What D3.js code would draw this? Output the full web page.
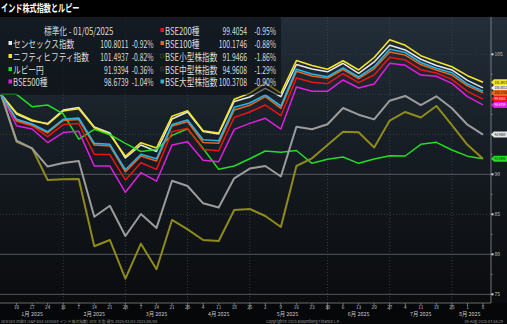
<!DOCTYPE html>
<html><head><meta charset="utf-8">
<script src="https://cdn.jsdelivr.net/npm/d3@7"></script>
<style>
html,body{margin:0;padding:0;background:#000;}
svg{display:block;}
text{font-family:"Noto Sans CJK JP","Noto Sans",sans-serif;}
</style></head><body>
<svg id="chart" width="507" height="324"></svg>
<script>
// Weekly closes (Fridays), normalised to 100 at the first date
const dates = ["2025-01-03","2025-01-10","2025-01-17","2025-01-24","2025-01-31","2025-02-07","2025-02-14","2025-02-21","2025-02-28","2025-03-07","2025-03-14","2025-03-21","2025-03-28","2025-04-04","2025-04-11","2025-04-18","2025-04-25","2025-05-02","2025-05-09","2025-05-16","2025-05-23","2025-05-30","2025-06-06","2025-06-13","2025-06-20","2025-06-27","2025-07-04","2025-07-11","2025-07-18","2025-07-25","2025-08-01","2025-08-08"];

const sensex   = [100,97.54,96.66,96.35,98.04,98.35,95.91,95.16,92.04,93.66,92.85,96.91,97.79,95.35,95.04,99.10,99.66,100.75,99.70,103.72,103.16,102.81,103.88,102.62,104.04,106.13,105.54,104.38,103.60,103.04,101.74,100.8011];
const nifty    = [100,97.66,96.79,96.25,97.91,98.20,95.81,94.97,92.25,93.95,93.29,97.26,97.95,95.45,95.16,99.37,100.13,101.41,100.13,104.22,103.60,103.14,104.19,103.04,104.60,106.81,106.12,104.83,104.10,103.45,102.33,101.4937];
const rupeeJpy = [100,100,98.45,98.66,97.56,94.41,95.62,94.95,93.87,92.85,93.10,94.87,95.69,93.22,90.62,91.04,91.95,92.91,92.75,92.97,91.37,91.87,92.16,91.37,91.91,92.32,92.29,93.75,94.00,93.04,92.27,91.9394];
const bse500   = [100,96.07,95.66,93.97,95.22,95.37,91.04,91.04,87.75,90.22,89.14,93.66,94.07,91.75,91.57,95.62,96.37,97.00,95.66,100.91,100.39,100.37,101.79,100.79,101.29,103.87,103.62,102.41,102.25,101.37,99.71,98.6739];
const bse200   = [100,96.60,96.04,94.70,96.22,96.35,92.51,92.46,89.29,91.45,90.62,95.32,95.75,93.09,92.94,97.12,97.79,98.66,97.32,102.04,101.50,101.32,102.57,101.45,102.41,104.62,104.29,103.07,102.66,101.87,100.36,99.4054];
const bse100   = [100,96.72,96.16,95.16,96.72,96.85,93.66,93.54,90.29,92.29,91.66,96.04,96.57,93.97,93.87,98.04,98.62,99.70,98.25,102.87,102.29,102.00,103.10,101.95,103.19,105.29,104.91,103.72,103.04,102.41,101.06,100.1746];
const smallCap = [100,94.07,93.25,89.29,89.37,89.41,81.00,81.79,76.95,81.33,78.14,84.29,83.12,81.79,81.66,85.54,85.66,84.79,83.41,91.04,92.00,93.66,95.32,95.25,93.35,96.72,97.79,97.10,98.54,96.16,93.69,91.9466];
const midCap   = [100,94.22,93.25,90.97,91.41,91.66,84.70,86.07,82.29,85.04,83.29,89.20,88.54,86.37,85.85,89.50,90.72,91.04,89.72,95.95,95.64,96.25,98.29,97.45,96.87,99.20,99.79,98.66,99.75,98.25,96.20,94.9608];
const largeCap = [100,96.87,96.29,95.32,96.87,97.04,93.87,93.75,90.57,92.51,91.94,96.22,96.79,94.32,94.19,98.37,98.91,99.91,98.54,103.12,102.54,102.20,103.31,102.16,103.45,105.62,105.22,103.97,103.25,102.70,101.28,100.3708];

const seriesNames  = ["センセックス指数","ニフティヒフティ指数","ルピー円","BSE500種","BSE200種","BSE100種","BSE小型株指数","BSE中型株指数","BSE大型株指数"];
const seriesValues = [sensex, nifty, rupeeJpy, bse500, bse200, bse100, smallCap, midCap, largeCap];
const seriesColors = ["#e8e8e8","#f3e52a","#24dc24","#e01fe0","#ee1414","#e8661c","#8f8a1c","#9c9c9c","#28b4e6"];

const yTickValues  = [75,80,85,90,95,100,105];
const yLabelValues = [75,80,85,90,105];
const ySolidGrid   = [75,80,90];
const monthEnds    = ["2025-01-31","2025-02-28","2025-03-28","2025-04-25","2025-05-30","2025-06-27","2025-07-25"];
const monthLabels  = ["1月 2025","2月 2025","3月 2025","4月 2025","5月 2025","6月 2025","7月 2025","8月 2025"];
const monthLabelAt = ["2025-01-17","2025-02-14","2025-03-14","2025-04-11","2025-05-12","2025-06-13","2025-07-11","2025-08-02"];

const parse = d3.timeParse("%Y-%m-%d");
const dts = dates.map(parse);

const svg = d3.select("#chart");
const W = 507, H = 324, plotTop = 17, plotBottom = 303, axisX = 491;

const x = d3.scaleTime().domain([dts[0], dts[dts.length-1]]).range([1, 483]);
const y = d3.scaleLinear().domain([75, 105]).range([294.3, 54.3]);

// background
const defs = svg.append("defs");
const g1 = defs.append("linearGradient").attr("id","bg").attr("x1",0).attr("y1",0).attr("x2",0).attr("y2",1);
g1.append("stop").attr("offset","0%").attr("stop-color","#232e39");
g1.append("stop").attr("offset","45%").attr("stop-color","#161d24");
g1.append("stop").attr("offset","100%").attr("stop-color","#0a0b0d");
svg.append("rect").attr("width",W).attr("height",H).attr("fill","#060708");
svg.append("rect").attr("x",0).attr("y",plotTop).attr("width",W).attr("height",plotBottom-plotTop).attr("fill","url(#bg)");
svg.append("rect").attr("width",W).attr("height",plotTop).attr("fill","#000");

// title
svg.append("text").attr("transform","translate(1,12) scale(0.68,1)")
  .attr("font-size",10.5).attr("font-weight","bold").attr("fill","#fff").text("インド株式指数とルピー");

// grid
const grid = svg.append("g");
grid.selectAll("line.v").data(monthEnds.map(parse)).join("line")
  .attr("x1",d=>x(d)).attr("x2",d=>x(d)).attr("y1",plotTop).attr("y2",plotBottom)
  .attr("stroke","#3d4751").attr("stroke-dasharray","1,2").attr("stroke-width",0.8);
grid.selectAll("line.h").data(yTickValues).join("line")
  .attr("x1",0).attr("x2",axisX).attr("y1",d=>y(d)).attr("y2",d=>y(d))
  .attr("stroke",d=>ySolidGrid.includes(d)?"#5c6268":"#37414a")
  .attr("stroke-dasharray",d=>ySolidGrid.includes(d)?null:"1,2")
  .attr("stroke-width",0.9);

// lines
const line = d3.line().x((d,i)=>x(dts[i])).y(d=>y(d));
const lineWidths = [1.5,1.6,1.5,1.5,1.5,1.5,2,2,1.6];
svg.append("g").selectAll("path").data(seriesValues).join("path")
  .attr("d",line).attr("fill","none")
  .attr("stroke",(d,i)=>seriesColors[i]).attr("stroke-width",(d,i)=>lineWidths[i])
  .attr("stroke-linejoin","round");

// legend box
svg.append("rect").attr("x",0).attr("y",plotTop).attr("width",281).attr("height",78)
  .attr("fill","rgba(8,11,14,0.55)");

const fmt4 = d3.format(".4f");
const lastVal = s => s[s.length-1];
const pctChg = s => ((s[s.length-1]/s[s.length-2]-1)*100).toFixed(2) + "%";

const leg = svg.append("g").attr("fill","#dcdcdc").attr("font-size",10);
function sText(g, tx, ty, str, anchor, sx) {
  return g.append("text").attr("transform",`translate(${tx},${ty}) scale(${sx||0.77},1)`)
    .attr("text-anchor",anchor||"start").text(str);
}
const numScale = 0.68;
sText(leg, 44, 34.5, "標準化 - 01/05/2025");
const leftIdx = [0,1,2,3], rightIdx = [4,5,6,7,8];
const rowBase = [47.5,60.5,73.5,86];
const rowBaseR = [34.5,47.5,60.5,73.5,86];
leftIdx.forEach((si,r)=>{
  const b = rowBase[r];
  leg.append("rect").attr("x",8.5).attr("y",b-6.5).attr("width",3.5).attr("height",4).attr("fill",seriesColors[si]);
  sText(leg, 13, b, seriesNames[si]);
  sText(leg, 128.5, b, fmt4(lastVal(seriesValues[si])), "end", numScale);
  sText(leg, 153.5, b, pctChg(seriesValues[si]), "end", numScale);
});
rightIdx.forEach((si,r)=>{
  const b = rowBaseR[r];
  const hollow = si===6 || si===7;
  leg.append("rect").attr("x",160.5).attr("y",b-6.5).attr("width",3.5).attr("height",4)
    .attr("fill",hollow?"#1b1f22":seriesColors[si])
    .attr("stroke",hollow?(si===6?"#6f6a1a":"#555"):"none").attr("stroke-width",0.6)
    .attr("stroke-dasharray",hollow?"0.8,0.6":null);
  sText(leg, 165, b, seriesNames[si]);
  sText(leg, 247, b, fmt4(lastVal(seriesValues[si])), "end", numScale);
  sText(leg, 276, b, pctChg(seriesValues[si]), "end", numScale);
});

// right axis
const ax = svg.append("g");
ax.append("line").attr("x1",axisX).attr("x2",axisX).attr("y1",plotTop).attr("y2",plotBottom).attr("stroke","#8a8f94").attr("stroke-width",0.8);
ax.selectAll("line.mn").data(d3.range(75,105.01,2.5)).join("line")
  .attr("x1",axisX).attr("x2",axisX+1.6).attr("y1",d=>y(d)).attr("y2",d=>y(d))
  .attr("stroke","#9aa0a5").attr("stroke-width",0.7);
ax.selectAll("rect.tk").data(yLabelValues).join("rect")
  .attr("x",axisX+0.5).attr("y",d=>y(d)-1).attr("width",2).attr("height",2).attr("fill","#d8d8d8");
ax.selectAll("text").data(yLabelValues).join("text")
  .attr("x",axisX+3.5).attr("y",d=>y(d)+1.8).attr("font-size",5).attr("fill","#c8c8c8").text(d=>d);

// last-value tags at the right edge (large cap and small cap tags sit under neighbours and are not shown)
const tagOrder = [0,1,2,3,4,5,7];
const tagText = ["#111","#111","#111","#fff","#fff","#111","#111","#111","#111"];
const tagFill = seriesColors.map((c,i)=> i===7 ? "#e4e4e4" : c);
const tags = svg.append("g");
tagOrder.forEach(si=>{
  const yc = y(lastVal(seriesValues[si]));
  tags.append("path")
    .attr("d",`M${axisX},${yc} L${axisX+3},${yc-3} L${W},${yc-3} L${W},${yc+3} L${axisX+3},${yc+3} Z`)
    .attr("fill",tagFill[si]);
  tags.append("text").attr("transform",`translate(${axisX+3.5},${yc+1.4}) scale(0.8,1)`).attr("font-size",3.8)
    .attr("fill",tagText[si]).text(fmt4(lastVal(seriesValues[si])));
});

// bottom axis
const bx = svg.append("g");
bx.append("line").attr("x1",0).attr("x2",axisX).attr("y1",plotBottom).attr("y2",plotBottom).attr("stroke","#80868c").attr("stroke-width",0.8);
const tickDates = dts.slice(1);
const monthEndSet = new Set(monthEnds);
bx.selectAll("line.t").data(tickDates).join("line")
  .attr("x1",d=>x(d)).attr("x2",d=>x(d)).attr("y1",plotBottom)
  .attr("y2",d=>monthEndSet.has(d3.timeFormat("%Y-%m-%d")(d))?plotBottom+7:plotBottom+2.5)
  .attr("stroke","#8a9096").attr("stroke-width",0.7);
bx.selectAll("text.d").data(tickDates).join("text")
  .attr("x",d=>x(d)).attr("y",plotBottom+6).attr("text-anchor","middle")
  .attr("font-size",4.6).attr("fill","#c4c4c4").text(d=>d.getDate());
bx.selectAll("text.m").data(monthLabels).join("text")
  .attr("x",(d,i)=>x(parse(monthLabelAt[i]))).attr("y",plotBottom+12.8).attr("text-anchor","middle")
  .attr("font-size",5.4).attr("fill","#c4c4c4").text(d=>d);

// footer
const ft = svg.append("g").attr("font-size",3.9).attr("fill","#9a9a9a");
ft.append("text").attr("x",1).attr("y",322.5).text("SENSEX Index (S&P BSE SENSEX インド株式指数)  日次  大型  週次 2025/01/03-2025/08/08");
ft.append("text").attr("x",303).attr("y",322.5).attr("text-anchor","middle").text("Copyright© 2025 Bloomberg Finance L.P.");
ft.append("text").attr("x",503).attr("y",322.5).attr("text-anchor","end").text("08-Aug-2025 07:58:29");
</script>
</body></html>
